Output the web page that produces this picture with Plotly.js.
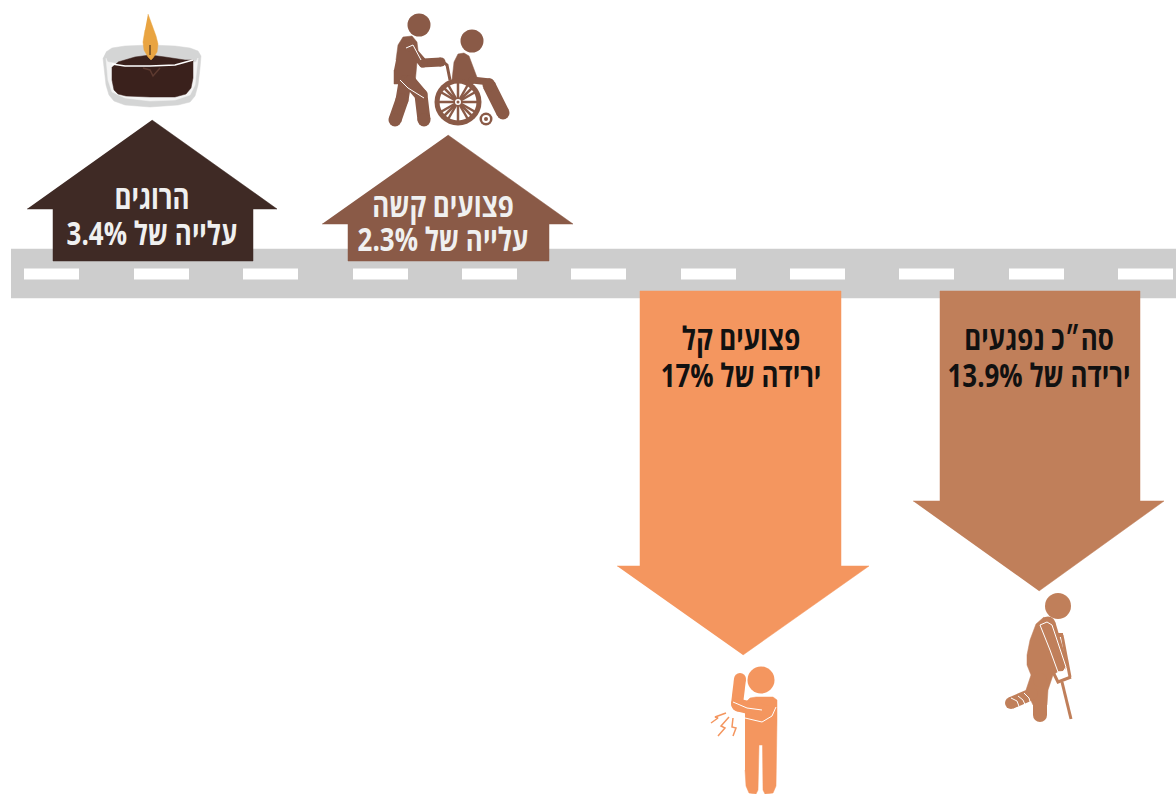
<!DOCTYPE html>
<html><head><meta charset="utf-8">
<script src="https://cdn.plot.ly/plotly-3.0.1.min.js"></script>
<style>html,body{margin:0;padding:0;background:#fff;overflow:hidden}#c{width:1176px;height:794px}
.textpoint text{transform-box:fill-box;transform-origin:center;transform:scaleX(.81)}</style>
</head><body><div id="c"></div>
<script>
// ---- data ----
const categories = ['הרוגים', 'פצועים קשה', 'פצועים קל', 'סה״כ נפגעים'];
const changeWords = ['עלייה', 'עלייה', 'ירידה', 'ירידה'];
const changePercent = [3.4, 2.3, 17, 13.9];

// ---- arrow layout (pixel-aligned axes) ----
const arrowColors = ['#3f2a25', '#8a5a47', '#f4965f', '#c07f5a'];
const textColors = ['#f0f0f0', '#f0f0f0', '#111111', '#111111'];
const shaftLeft = [53, 348, 640, 940];
const shaftRight = [253, 549, 841, 1140];
const wingLeft = [27, 322, 617, 913];
const wingRight = [277, 573, 869, 1164];
const tipX = [152, 448, 743, 1039];
const tipY = [120, 135, 655, 591];
const wingY = [209, 224, 566, 501];
const baseY = [261, 261, 291, 291];
const textX = [152, 443, 741, 1039];
const textY1 = [201, 209, 342, 342];
const textY2 = [237, 243, 379, 379];

const roadColor = '#cdcdcd';
const roadX = [11, 1176, 1176, 11];
const roadY = [249, 249, 298, 298];
const dashStart = [24, 134, 243, 353, 462, 571, 681, 790, 899, 1009, 1118];
const dashLength = 55, dashY = 274, dashHeight = 11;

const traces = [];
const poly = (c, x, y) => traces.push({x, y, mode:'lines', fill:'toself', fillcolor:c, line:{width:0.5, color:c}, hoverinfo:'skip', showlegend:false});
const stroke = (c, w, x, y) => traces.push({x, y, mode:'lines+markers', line:{width:w, color:c}, marker:{size:w, color:c}, hoverinfo:'skip', showlegend:false});
const thin = (c, w, x, y) => traces.push({x, y, mode:'lines', line:{width:w, color:c}, hoverinfo:'skip', showlegend:false});
const dot = (c, d, x, y) => traces.push({x:[x], y:[y], mode:'markers', marker:{size:d, color:c}, hoverinfo:'skip', showlegend:false});

// road
poly(roadColor, roadX, roadY);
thin('#ffffff', dashHeight, dashStart.flatMap(s => [s, s + dashLength, null]), dashStart.flatMap(() => [dashY, dashY, null]));

// arrows
categories.forEach((_, i) => {
  poly(arrowColors[i],
    [tipX[i], wingRight[i], shaftRight[i], shaftRight[i], shaftLeft[i], shaftLeft[i], wingLeft[i]],
    [tipY[i], wingY[i], wingY[i], baseY[i], baseY[i], wingY[i], wingY[i]]);
});

// ---- candle icon ----
const flame = '#e9a441', wax = '#3a211c', glass = '#d4d5d5';
poly(glass, [103,104,106,109,114,125,150,178,190,195,198,200,201,198,190,175,150,125,112,106],
            [58,68,85,95,101,105,107,105,102,96,85,68,56,51,48,46,45,46,48,52]);
poly('#f4f4f4', [106,108,112,125,150,175,190,195,198,196,175,150,125,108],
            [58,80,92,98,101,100,95,85,58,62,65,66,65,62]);
poly(wax, [112,112,114,118,126,150,175,186,191,193,193,185,165,150,135,118],
          [67,80,90,94,96,97,97,94,88,78,60,60,57,55,57,62]);
thin('#ffffff', 1.5, [112,125,150,175,193], [64,66,66,65,60]);
thin('#5d3a30', 1.5, [143,150,153,160], [68,70,76,68]);
poly(flame, [148,152,156,158,157,153,151,148,144,143,145], [14,25,36,44,52,58,60,57,50,42,30]);
thin('#6b4a24', 1.5, [150,150], [45,55]);

// ---- wheelchair icon ----
const bw = '#8a5a47';
dot(bw, 23, 419, 25);
poly(bw, [396,398,403,412,417,418,417,416,415,394,394], [60,45,37,36,42,50,62,72,84,84,70]);
stroke(bw, 9, [409,423,441], [47,63,62]);
thin(bw, 3, [442,447,450], [61,65,80]);
stroke(bw, 13, [405,402,395], [82,100,120]);
stroke(bw, 13, [410,421,424], [82,95,120]);
thin('#ffffff', 1, [400,408,424], [80,88,98]);
thin('#ffffff', 1, [406,413,421], [48,45,60]);
dot(bw, 23, 472, 41);
poly(bw, [452,454,458,464,469,473,478,470,454], [80,62,54,53,56,66,80,86,86]);
stroke(bw, 7, [472,490], [80,82]);
stroke(bw, 13, [489,503], [85,113]);
dot(bw, 47, 458, 102);
dot('#ffffff', 37, 458, 102);
thin(bw, 2.5, [458,458,null,439,477,null,444.5,471.5,null,444.5,471.5,null,448.5,467.5,null,448.5,467.5,null,441.5,474.5,null,441.5,474.5,null],
              [83,121,null,102,102,null,88.5,115.5,null,115.5,88.5,null,85.5,118.5,null,118.5,85.5,null,92.5,111.5,null,111.5,92.5,null]);
dot('#ffffff', 6, 458, 102);
dot(bw, 3, 458, 102);
dot(bw, 13, 486, 119);
dot('#ffffff', 8, 486, 119);
dot(bw, 4, 486, 119);

// ---- light-injury icon ----
const oc = '#f4965f';
dot(oc, 27, 761, 680);
poly(oc, [745,746,750,756,773,777,777,776,773,765,763,762.5,759,758,756,749,746,745],
         [712,702,698,697,697,700,720,786,793,794,790,745,745,790,794,793,786,770]);
stroke(oc, 12, [740,737], [679,704]);
stroke(oc, 13, [738,767], [705,712]);
thin('#ffffff', 1, [733,747,762], [702,708,710]);
thin('#ffffff', 1, [745,762,772,776], [718,722,716,707]);
thin(oc, 1.5, [711,718,715,726], [723,718,717,713]);
thin(oc, 1.5, [718,725,721,729], [736,728,726,717]);
thin(oc, 1.5, [733,736,732,733], [736,728,727,718]);

// ---- crutch icon ----
const tc = '#c07f5a';
dot(tc, 26, 1058, 606);
poly(tc, [1044,1036,1030,1027,1027,1031,1026,1033,1047,1048,1053,1060,1058,1052],
         [617,624,640,655,665,675,690,705,705,690,675,670,638,622]);
stroke(tc, 14, [1040,1040], [680,715]);
stroke(tc, 12, [1032,1011], [694,703]);
stroke(tc, 15, [1048,1060], [624,664]);
thin(tc, 4, [1055,1063], [635,635]);
thin(tc, 3, [1062,1070], [635,677]);
thin(tc, 3, [1053,1058,1071], [672,682,677]);
thin(tc, 3, [1062,1071], [682,719]);
thin('#ffffff', 1, [1040,1047,1052,1066,1063,1058,1050,1040], [625,622,625,667,672,672,650,625]);
thin('#ffffff', 1, [1011,1017,1020,null,1018,1023,1026,null,1024,1029,1031], [698,701,709,null,696,700,707,null,693,698,705]);

// ---- labels ----
const rtl = s => '\u202B' + s + '\u202C';
const labelFamily = '"Open Sans", sans-serif';
categories.forEach((name, i) => {
  traces.push({x:[textX[i], textX[i]], y:[textY1[i], textY2[i]], mode:'text',
    text:[rtl(name), rtl(changeWords[i] + ' של ' + changePercent[i] + '%')],
    textposition:'middle center',
    textfont:{family:labelFamily, size:32, color:textColors[i], weight:700},
    hoverinfo:'skip', showlegend:false, cliponaxis:false});
});

const hidden = {visible:false, fixedrange:true};
Plotly.newPlot('c', traces, {
  width:1176, height:794, margin:{l:0, r:0, t:0, b:0},
  paper_bgcolor:'#ffffff', plot_bgcolor:'#ffffff', showlegend:false,
  xaxis:Object.assign({range:[0,1176]}, hidden),
  yaxis:Object.assign({range:[794,0]}, hidden)
}, {displayModeBar:false, staticPlot:true});
</script></body></html>
